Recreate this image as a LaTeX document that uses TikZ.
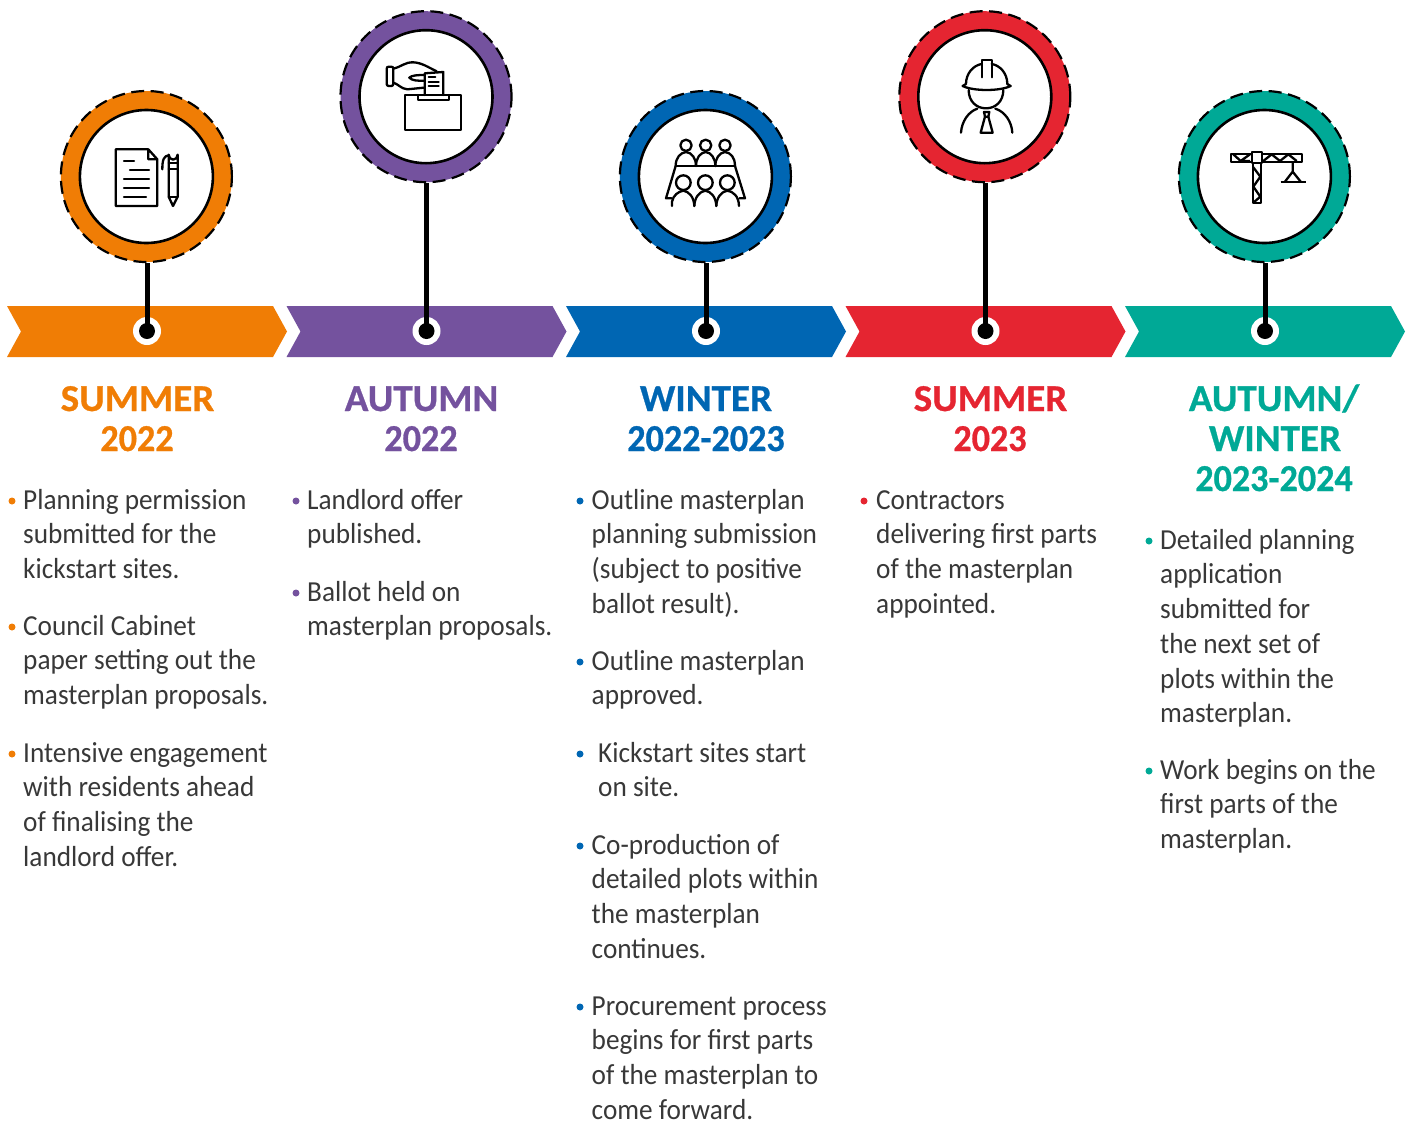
\documentclass[tikz,border=0pt]{standalone}
\usepackage{fontspec}
\setmainfont{Carlito}
\newfontfamily\parafont[FakeStretch=0.94]{Carlito}
\definecolor{corange}{HTML}{F07D05}
\definecolor{cpurple}{HTML}{74529E}
\definecolor{cblue}{HTML}{0066B3}
\definecolor{cred}{HTML}{E52531}
\definecolor{cteal}{HTML}{00A996}
\definecolor{ctext}{HTML}{383838}
\tikzset{
  ringnode/.style={circle,fill=#1,draw=black,line width=2.2pt,dash pattern=on 13pt off 6.5pt,minimum size=171pt,inner sep=0pt},
  discnode/.style={circle,fill=white,draw=black,line width=2.6pt,minimum size=133pt,inner sep=0pt},
  halonode/.style={circle,fill=white,minimum size=28pt,inner sep=0pt},
  dotnode/.style={circle,fill=black,minimum size=16pt,inner sep=0pt},
  stem/.style={line width=5pt,black},
  chev/.style={fill=#1,draw=none},
  icon/.style={line width=2.3pt,black,line cap=round,line join=round},
  head/.style={text=#1,font=\fontsize{38}{40}\selectfont\bfseries\addfontfeature{FakeBold=0.7,FakeStretch=1.03},align=center,anchor=base,inner sep=0pt},
  headnum/.style={text=#1,font=\fontsize{38}{40}\selectfont\bfseries\addfontfeature{FakeBold=0.7,FakeStretch=0.95},align=center,anchor=base,inner sep=0pt},
  para/.style={font=\fontsize{29}{34.75}\selectfont\parafont,anchor=base west,inner sep=0pt,text=ctext},
  bul/.style={circle,fill=#1,minimum size=7pt,inner sep=0pt}
}
% #1 name, #2 bullet x, #3 text x, #4 baseline y, #5 colour, #6 text
\newcommand{\bpara}[6]{%
  \node[bul=#5] (b#1) at (#2,#4-8) {};
  \node[para] (t#1) at (#3,#4) {\begin{tabular}[t]{@{}l@{}}#6\end{tabular}};
}
\newcommand{\chevron}[2]{%
  \fill[chev=#2] (#1,306) -- (#1+266,306) -- (#1+280,331.5) -- (#1+266,357) -- (#1,357) -- (#1+14,331.5) -- cycle;
}
\begin{document}
\begin{tikzpicture}[x=1pt,y=-1pt]
\useasboundingbox (0,0) rectangle (1408,1122);
\chevron{7}{corange}
\chevron{286.5}{cpurple}
\chevron{566}{cblue}
\chevron{845.5}{cred}
\chevron{1125}{cteal}

\foreach \n/\dx/\x/\y/\c in {1/147/146.4/176.5/corange,2/426.5/426/96.7/cpurple,3/706/705.4/176.5/cblue,4/985.5/984.8/96.7/cred,5/1265/1264.4/176.5/cteal}{
  \node[halonode] (h\n) at (\dx,331) {};
  \node[dotnode] (d\n) at (\dx,331) {};
  \node[ringnode=\c] (r\n) at (\x,\y) {};
  \draw[stem] (d\n |- r\n.south) -- (d\n.center);
  \node[discnode] (c\n) at (\x,\y) {};
}

% document and pen
\begin{scope}[shift={(50,80)},x=0.3333pt,y=-0.3333pt,icon]
  \draw (295,208) -- (197,208) -- (197,378) -- (322,378) -- (322,238) -- (295,208) -- (295,238) -- (322,238);
  \draw (222,244) -- (252,244) (240,270) -- (297,270) (222,297) -- (297,297) (222,323) -- (297,323) (222,350) -- (288,350);
  \draw (356,350) -- (356,224) arc[start angle=180,end angle=0,x radius=13.5,y radius=15] -- (383,350) -- (369,378) -- cycle;
  \draw (356,250) -- (383,250) (356,268) -- (383,268) (356,350) -- (383,350);
  \draw (356,226) .. controls (342,228) and (337,238) .. (337,268);
\end{scope}

% ballot box
\begin{scope}[shift={(330,0)},x=0.3333pt,y=-0.3333pt,icon]
  \draw (226,285) rectangle (394,390);
  \draw (264,285) -- (264,300) -- (358,300) -- (358,285);
  \draw (284,285) -- (284,220) -- (340,216) -- (340,285);
  \draw (296,232) -- (316,232) (296,245) -- (326,245) (296,258) -- (326,258);
  \draw[rounded corners=2pt] (170,200) rectangle (190,258);
  \draw (190,206) .. controls (215,200) and (225,186) .. (250,187) .. controls (275,188) and (295,202) .. (320,214);
  \draw (190,248) .. controls (205,252) and (212,266) .. (232,268) -- (282,263);
  \draw (284,225) .. controls (262,225) and (245,226) .. (238,233) .. controls (245,242) and (265,243) .. (284,242);
\end{scope}

% meeting
\begin{scope}[shift={(610,80)},x=0.3333pt,y=-0.3333pt,icon]
  \foreach \hx in {228,287,345}{\draw (\hx,196) circle[x radius=17,y radius=17];}
  \draw (197,258) .. controls (197,232) and (212,218) .. (228,216) .. controls (246,218) and (258,235) .. (258,258);
  \draw (258,258) .. controls (258,235) and (270,218) .. (287,216) .. controls (304,218) and (316,235) .. (316,258);
  \draw (316,258) .. controls (316,235) and (328,218) .. (345,216) .. controls (362,218) and (375,232) .. (375,258);
  \draw (197,258) -- (375,258);
  \draw (197,258) -- (168,355) -- (185,355) (375,258) -- (405,355) -- (388,355);
  \foreach \hx in {220,286,352}{\draw (\hx,308) circle[x radius=22,y radius=22];}
  \draw (186,378) -- (186,365) .. controls (190,345) and (205,335) .. (220,332) .. controls (238,335) and (252,352) .. (253,378);
  \draw (253,378) .. controls (254,352) and (268,335) .. (286,332) .. controls (304,335) and (318,352) .. (319,378);
  \draw (319,378) .. controls (320,352) and (334,335) .. (352,332) .. controls (370,335) and (386,348) .. (387,378);
\end{scope}

% worker
\begin{scope}[shift={(890,0)},x=0.3333pt,y=-0.3333pt,icon]
  \draw (218,258) .. controls (250,274) and (330,274) .. (362,258) -- (352,252);
  \draw (218,258) -- (228,252) .. controls (228,220) and (250,196) .. (275,192);
  \draw (352,252) .. controls (352,220) and (330,196) .. (305,192);
  \draw (275,232) -- (275,180) -- (305,180) -- (305,232);
  \draw (236,270) .. controls (236,305) and (260,325) .. (288,325) .. controls (316,325) and (340,305) .. (340,270);
  \draw (213,398) .. controls (215,365) and (235,335) .. (262,326);
  \draw (367,398) .. controls (365,365) and (345,335) .. (316,326);
  \draw (282,336) -- (298,336) -- (295,350) -- (285,350) -- cycle;
  \draw (285,350) -- (272,398) -- (308,398) -- (295,350);
\end{scope}

% crane
\begin{scope}[shift={(1170,80)},x=0.3333pt,y=-0.3333pt,icon,line cap=butt,miter limit=2]
  \draw (184,221) rectangle (395,245);
  \draw (249,250) rectangle (272,370);
  \draw[fill=white] (245,215) rectangle (275,250);
  \draw (190,223) -- (212,243) -- (240,223) (240,243) -- (212,243);
  \draw (280,243) -- (305,223) -- (330,243) -- (355,223) -- (380,243);
  \draw (250,262) -- (271,290) -- (250,320) -- (271,350) -- (250,368);
  \draw (368,245) -- (368,275) -- (345,305) (368,275) -- (392,305);
  \draw (332,305) -- (408,305);
\end{scope}

% headings
\node[head=corange] (h1a) at (137.5,411) {SUMMER};
\node[headnum=corange] (h1b) at (137,451) {2022};
\node[head=cpurple] (h2a) at (421.5,411) {AUTUMN};
\node[headnum=cpurple] (h2b) at (421,451) {2022};
\node[head=cblue] (h3a) at (706,411) {WINTER};
\node[headnum=cblue] (h3b) at (706,451) {2022-2023};
\node[head=cred] (h4a) at (990.5,411) {SUMMER};
\node[headnum=cred] (h4b) at (990,451) {2023};
\node[head=cteal] (h5a) at (1274,411) {AUTUMN/};
\node[head=cteal] (h5b) at (1275,451) {WINTER};
\node[headnum=cteal] (h5c) at (1274,491) {2023-2024};

% column 1
\bpara{a1}{12}{23}{509}{corange}{Planning permission\\submitted for the\\kickstart sites.}
\bpara{a2}{12}{23}{635}{corange}{Council Cabinet\\paper setting out the\\masterplan proposals.}
\bpara{a3}{12}{23}{762}{corange}{Intensive engagement\\with residents ahead\\of finalising the\\landlord offer.}
% column 2
\bpara{b1}{296}{307}{509}{cpurple}{Landlord offer\\published.}
\bpara{b2}{296}{307}{601}{cpurple}{Ballot held on\\masterplan proposals.}
% column 3
\bpara{c1}{580}{591.5}{509}{cblue}{Outline masterplan\\planning submission\\(subject to positive\\ballot result).}
\bpara{c2}{580}{591.5}{670}{cblue}{Outline masterplan\\approved.}
\bpara{c3}{580}{598}{762}{cblue}{Kickstart sites start\\on site.}
\bpara{c4}{580}{591.5}{854}{cblue}{Co-production of\\detailed plots within\\the masterplan\\continues.}
\bpara{c5}{580}{591.5}{1015}{cblue}{Procurement process\\begins for first parts\\of the masterplan to\\come forward.\\[-9pt]}
% column 4
\bpara{d1}{864}{876}{509}{cred}{Contractors\\delivering first parts\\of the masterplan\\appointed.}
% column 5
\bpara{e1}{1149}{1160}{549}{cteal}{Detailed planning\\application\\submitted for\\the next set of\\plots within the\\masterplan.}
\bpara{e2}{1149}{1160}{779}{cteal}{Work begins on the\\first parts of the\\masterplan.}
\end{tikzpicture}
\end{document}
